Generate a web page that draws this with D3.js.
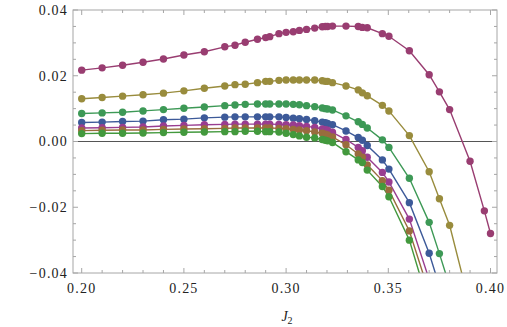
<!DOCTYPE html>
<html>
<head>
<meta charset="utf-8">
<script src="https://cdn.jsdelivr.net/npm/d3@7"></script>
<style>
html,body{margin:0;padding:0;background:#fff;}
svg{display:block;}
</style>
</head>
<body>
<svg id="chart" width="507" height="327"></svg>
<script>
// ---- data ----
const xGrid = [0.200,0.210,0.220,0.230,0.240,0.250,0.260,0.270,0.275,0.280,0.286,0.290,0.292,0.2965,0.300,0.3035,0.3065,0.310,0.314,0.3177,0.3192,0.3203,0.3227,0.3293,0.3353,0.3373,0.3397,0.3471,0.3503,0.3603,0.370,0.375,0.380,0.390,0.397,0.400];

const seriesPurple = [0.0217,0.0224,0.0232,0.0241,0.0251,0.0263,0.0273,0.0288,0.0293,0.0302,0.0311,0.0316,0.0319,0.0328,0.0332,0.0334,0.0338,0.0341,0.0345,0.0349,0.0350,0.0350,0.0351,0.0351,0.0350,0.0347,0.0346,0.0328,0.0320,0.0276,0.0203,0.0151,0.0097,-0.0060,-0.0211,-0.0280];
const seriesOlive  = [0.0130,0.0134,0.0138,0.0142,0.0147,0.0154,0.0162,0.0169,0.0173,0.0174,0.0179,0.0183,0.0183,0.0186,0.0187,0.0187,0.0187,0.0187,0.0187,0.0185,0.0183,0.0183,0.0179,0.0169,0.0157,0.0148,0.0139,0.0110,0.0093,0.0018,-0.0092,-0.0174,-0.0255,-0.0500];
const seriesGreenA = [0.0085,0.0087,0.0089,0.0093,0.0097,0.0101,0.0105,0.0109,0.0111,0.0113,0.0114,0.0114,0.0114,0.0114,0.0114,0.0113,0.0112,0.0109,0.0106,0.0102,0.0100,0.0099,0.0096,0.0078,0.0060,0.0052,0.0041,0.0005,-0.0018,-0.0112,-0.0246,-0.0341,-0.0440];
const seriesBlue   = [0.0058,0.0059,0.0061,0.0062,0.0066,0.0068,0.0072,0.0074,0.0075,0.0075,0.0075,0.0075,0.0075,0.0075,0.0073,0.0071,0.0069,0.0067,0.0063,0.0059,0.0057,0.0055,0.0051,0.0032,0.0012,0.0004,-0.0012,-0.0056,-0.0084,-0.0186,-0.0340,-0.0440];
const seriesMagenta= [0.0041,0.0042,0.0043,0.0044,0.0047,0.0049,0.0051,0.0052,0.0053,0.0053,0.0053,0.0053,0.0053,0.0052,0.0051,0.0050,0.0048,0.0046,0.0043,0.0038,0.0036,0.0034,0.0028,0.0006,-0.0018,-0.0028,-0.0048,-0.0094,-0.0123,-0.0236,-0.0420];
const seriesBrown  = [0.0033,0.0034,0.0035,0.0035,0.0037,0.0038,0.0039,0.0040,0.0041,0.0041,0.0041,0.0041,0.0041,0.0040,0.0039,0.0037,0.0035,0.0033,0.0029,0.0025,0.0022,0.0020,0.0014,-0.0010,-0.0038,-0.0048,-0.0071,-0.0119,-0.0148,-0.0272,-0.0460];
const seriesGreenB = [0.0024,0.0025,0.0025,0.0026,0.0027,0.0028,0.0029,0.0030,0.0030,0.0031,0.0031,0.0030,0.0030,0.0029,0.0025,0.0021,0.0017,0.0013,0.0011,0.0006,0.0004,0.0002,-0.0003,-0.0031,-0.0056,-0.0064,-0.0087,-0.0137,-0.0168,-0.0300,-0.0500];

const seriesList = [seriesPurple, seriesOlive, seriesGreenA, seriesBlue, seriesMagenta, seriesBrown, seriesGreenB];
const seriesColors = ["#993d71","#998c3d","#3d9956","#3d5a99","#993d90","#996d3d","#43993d"];

const xTicks = [0.20,0.25,0.30,0.35,0.40];
const xTickLabels = ["0.20","0.25","0.30","0.35","0.40"];
const yTicks = [-0.04,-0.02,0.00,0.02,0.04];
const yTickLabels = ["\u22120.04","\u22120.02","0.00","0.02","0.04"];

// ---- layout ----
const FONT = "Liberation Serif";
const svg = d3.select("#chart");
const L = 73, R = 497, T = 10, B = 273;
const x = d3.scaleLinear().domain([0.2, 0.4]).range([81.7, 490.5]);
const y = d3.scaleLinear().domain([-0.04, 0.04]).range([B, T]);
const frameColor = "#a6a6a6";

svg.append("defs").append("clipPath").attr("id","clip")
  .append("rect").attr("x",L).attr("y",T).attr("width",R-L).attr("height",B-T);

// zero line
svg.append("line").attr("x1",L).attr("x2",R).attr("y1",y(0)).attr("y2",y(0))
  .attr("stroke","#555").attr("stroke-width",1);

// series
const plot = svg.append("g").attr("clip-path","url(#clip)");
const line = d3.line().x((d,i)=>x(xGrid[i])).y(d=>y(d));
seriesList.forEach((s,k)=>{
  plot.append("path").datum(s).attr("d",line).attr("fill","none")
    .attr("stroke",seriesColors[k]).attr("stroke-width",1.4);
});
seriesList.forEach((s,k)=>{
  plot.append("g").selectAll("circle").data(s).join("circle")
    .attr("cx",(d,i)=>x(xGrid[i])).attr("cy",d=>y(d)).attr("r",3.7)
    .attr("fill",seriesColors[k]);
});

// frame
svg.append("rect").attr("x",L).attr("y",T).attr("width",R-L).attr("height",B-T)
  .attr("fill","none").attr("stroke",frameColor).attr("stroke-width",1);

// ticks
const xMinor = d3.range(0.20, 0.4001, 0.01);
const yMinor = d3.range(-0.04, 0.0401, 0.005);
const tk = svg.append("g").attr("stroke",frameColor).attr("stroke-width",1);
xMinor.forEach(v=>{
  const major = xTicks.some(t=>Math.abs(t-v)<1e-6);
  const len = major?5:3;
  tk.append("line").attr("x1",x(v)).attr("x2",x(v)).attr("y1",B).attr("y2",B-len);
  tk.append("line").attr("x1",x(v)).attr("x2",x(v)).attr("y1",T).attr("y2",T+len);
});
yMinor.forEach(v=>{
  const major = yTicks.some(t=>Math.abs(t-v)<1e-6);
  const len = major?5:3;
  tk.append("line").attr("x1",L).attr("x2",L+len).attr("y1",y(v)).attr("y2",y(v));
  tk.append("line").attr("x1",R).attr("x2",R-len).attr("y1",y(v)).attr("y2",y(v));
});

// tick labels
svg.append("g").selectAll("text").data(xTicks).join("text")
  .attr("x",d=>x(d)).attr("y",292.5).attr("text-anchor","middle")
  .attr("font-family",FONT)
  .attr("font-size",14).attr("letter-spacing",1.2).attr("fill","#222")
  .text((d,i)=>xTickLabels[i]);
svg.append("g").selectAll("text").data(yTicks).join("text")
  .attr("x",68).attr("y",d=>y(d)+4.8).attr("text-anchor","end")
  .attr("font-family",FONT)
  .attr("font-size",14).attr("letter-spacing",1.2).attr("fill","#222")
  .text((d,i)=>yTickLabels[i]);

// axis label
const lab = svg.append("text").attr("x",287).attr("y",321).attr("text-anchor","middle")
  .attr("font-family",FONT)
  .attr("font-size",14).attr("fill","#222");
lab.append("tspan").attr("font-style","italic").text("J");
lab.append("tspan").attr("font-size",10).attr("dy",3).text("2");
</script>
</body>
</html>
